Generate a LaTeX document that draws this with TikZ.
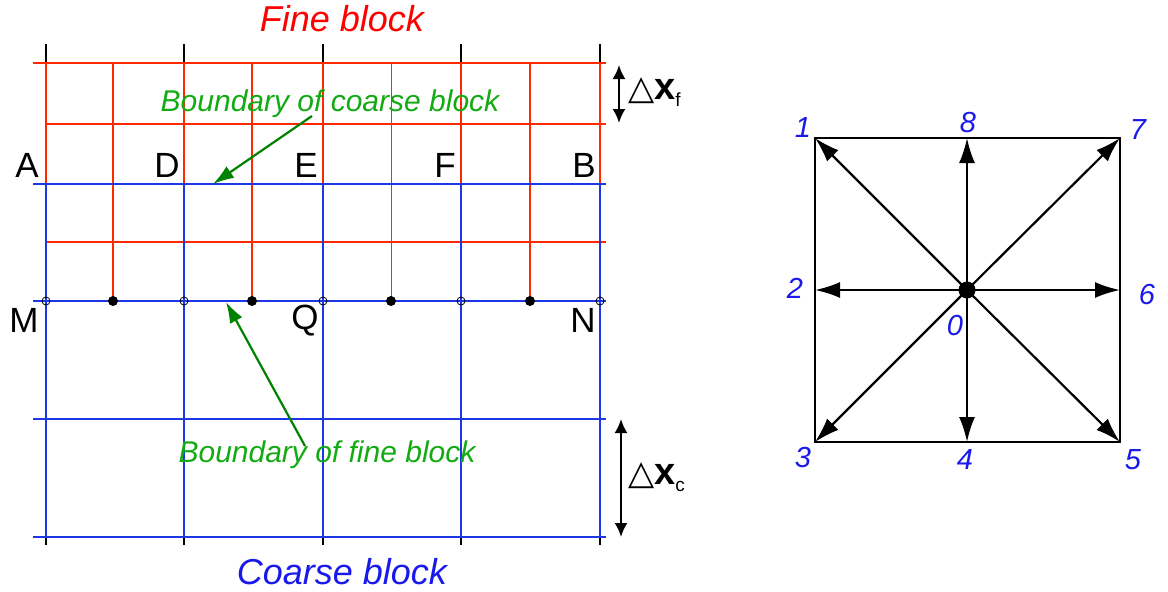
\documentclass[tikz,border=0pt]{standalone}
\usepackage{fontspec}
\setmainfont{Liberation Sans}
\newfontfamily\trifont{DejaVu Sans}
\usetikzlibrary{arrows.meta}

\definecolor{finered}{RGB}{255,40,0}
\definecolor{titlered}{RGB}{255,0,0}
\definecolor{coarseblue}{RGB}{30,55,230}
\definecolor{labelblue}{RGB}{25,25,235}
\definecolor{textgreen}{RGB}{20,170,20}
\definecolor{arrowgreen}{RGB}{0,130,0}

\tikzset{
  fineline/.style={finered, line width=2.4pt},
  coarseline/.style={coarseblue, line width=2.8pt},
  tickline/.style={black, line width=1.8pt},
  ptlabel/.style={inner sep=0pt, font=\fontsize{35}{35}\selectfont},
  dirlabel/.style={inner sep=0pt, labelblue, font=\fontsize{29}{29}\selectfont\itshape},
  greentext/.style={inner sep=0pt, textgreen, font=\fontsize{30}{30}\selectfont\itshape},
  pointer/.style={arrowgreen, line width=2.2pt, -{Latex[length=21pt,width=14pt]}},
  dimarrow/.style={black, line width=2.2pt, {Latex[length=14pt,width=13pt]}-{Latex[length=14pt,width=13pt]}},
  dirarrow/.style={black, line width=2.2pt, -{Latex[length=25pt,width=16pt]}}
}

\begin{document}
\begin{tikzpicture}[x=1pt, y=-1pt]
\useasboundingbox (0,0) rectangle (1168,592);

% ticks of the coarse grid
\foreach \x in {46,184,323,461,600} {
  \draw[tickline] (\x,44) -- (\x,63);
  \draw[tickline] (\x,537) -- (\x,545);
}

% fine block
\foreach \x in {46,184,323,461,600}
  \draw[fineline] (\x,63) -- (\x,184);
\foreach \x in {113,252,530}
  \draw[fineline] (\x,63) -- (\x,301);
\draw[finered, line width=1pt] (391,63) -- (391,301);
\draw[fineline] (33,63) -- (606,63);
\foreach \y in {124,242}
  \draw[fineline] (46,\y) -- (606,\y);

% coarse block
\foreach \x in {46,184,323,461,600}
  \draw[coarseline] (\x,184) -- (\x,537);
\foreach \y in {184,301,419,537}
  \draw[coarseline] (33,\y) -- (606,\y);

% points on MN
\foreach \x in {46,184,323,461,600}
  \draw[black, line width=0.8pt] (\x,301) circle (4);
\foreach \x in {113,252,391,530}
  \fill[black] (\x,301) circle (5);

% point names
\node[ptlabel] (A) at (27,165) {A};
\node[ptlabel] (D) at (167,165) {D};
\node[ptlabel] (E) at (306,165) {E};
\node[ptlabel] (F) at (445,165) {F};
\node[ptlabel] (B) at (584,165) {B};
\node[ptlabel] (M) at (24,320) {M};
\node[ptlabel] (Q) at (305,321) {Q};
\node[ptlabel] (N) at (583,320) {N};

% block names
\node[inner sep=0pt, titlered, font=\fontsize{36}{36}\selectfont\itshape] (fine) at (342,19) {Fine block};
\node[inner sep=0pt, labelblue, font=\fontsize{36}{36}\selectfont\itshape] (coarse) at (342,572) {Coarse block};

% boundaries
\node[greentext] (bcoarse) at (330,104) {Boundary of coarse block};
\coordinate (bcoarsefoot) at (312,116);
\coordinate (bcoarsetip) at (213,184);
\draw[pointer] (bcoarsefoot) -- (bcoarsetip);

\node[greentext] (bfine) at (327,455) {Boundary of fine block};
\coordinate (bfinefoot) at (305,446);
\coordinate (bfinetip) at (226,302);
\draw[pointer] (bfinefoot) -- (bfinetip);

% grid steps
\coordinate (dxftop) at (619,65);
\coordinate (dxfbot) at (619,123);
\draw[dimarrow] (dxftop) -- (dxfbot);
\node[anchor=west, inner sep=0pt] (dxf) at (628,92)
  {{\trifont\fontsize{34}{34}\selectfont △}\fontsize{38}{38}\selectfont\bfseries x\raisebox{-7pt}{\fontsize{19}{19}\mdseries\selectfont f}};

\coordinate (dxctop) at (621,419);
\coordinate (dxcbot) at (621,537);
\draw[dimarrow] (dxctop) -- (dxcbot);
\node[anchor=west, inner sep=0pt] (dxc) at (628,477)
  {{\trifont\fontsize{34}{34}\selectfont △}\fontsize{38}{38}\selectfont\bfseries x\raisebox{-7pt}{\fontsize{19}{19}\mdseries\selectfont c}};

% lattice directions
\draw[black, line width=2.6pt] (815,138) rectangle (1120,442);
\coordinate (d1) at (815,138);
\coordinate (d8) at (967,138);
\coordinate (d7) at (1120,138);
\coordinate (d2) at (815,290);
\coordinate (d6) at (1120,290);
\coordinate (d3) at (815,442);
\coordinate (d4) at (967,442);
\coordinate (d5) at (1120,442);
\node[circle, fill=black, inner sep=0pt, minimum size=17pt] (d0) at (967,290) {};
\foreach \d in {d1,d2,d3,d4,d5,d6,d7,d8}
  \draw[dirarrow] (d0.center) -- (\d);

\node[dirlabel] (l1) at (803,128) {1};
\node[dirlabel] (l8) at (968,123) {8};
\node[dirlabel] (l7) at (1138,130) {7};
\node[dirlabel] (l2) at (795,288) {2};
\node[dirlabel] (l6) at (1147,295) {6};
\node[dirlabel] (l0) at (955,326) {0};
\node[dirlabel] (l3) at (803,458) {3};
\node[dirlabel] (l4) at (965,460) {4};
\node[dirlabel] (l5) at (1133,460) {5};
\end{tikzpicture}
\end{document}
